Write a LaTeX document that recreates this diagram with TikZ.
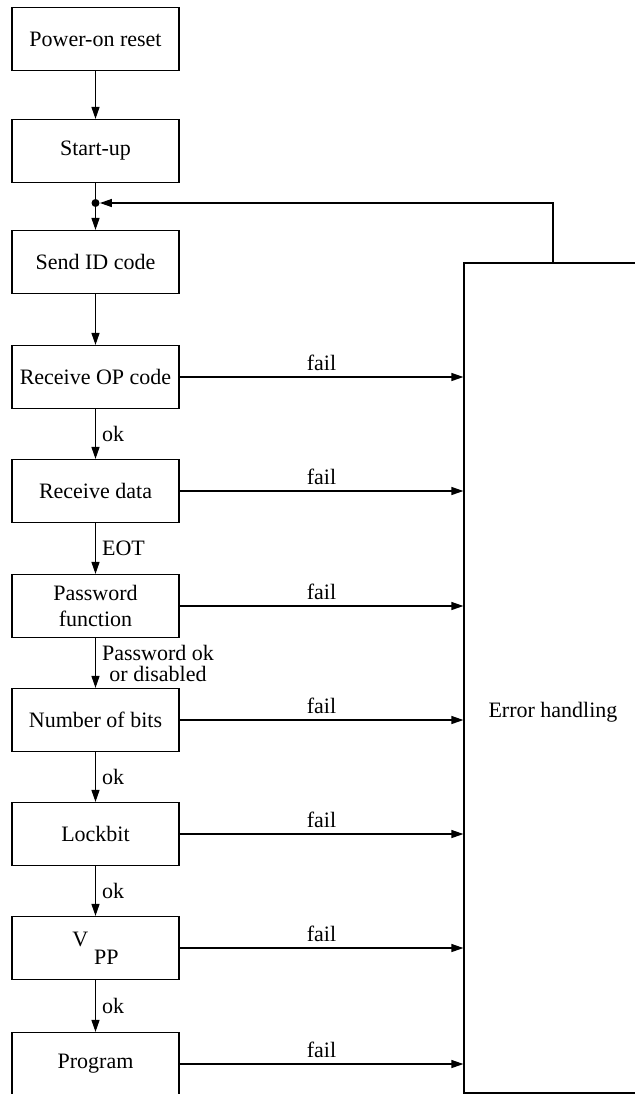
\documentclass[tikz,border=0pt]{standalone}
\usepackage{fontspec}
\setmainfont{Liberation Serif}
\usetikzlibrary{arrows.meta}
\begin{document}
\begin{tikzpicture}[x=0.5pt,y=-0.5pt,
  box/.style={draw, line width=0.6pt, minimum width=83.5pt, minimum height=31.5pt,
    inner sep=0pt, align=center, font=\fontsize{11}{13}\selectfont},
  conn/.style={line width=0.6pt, -{Triangle[length=6pt,width=4pt]}},
  plain/.style={line width=0.6pt},
  lbl/.style={font=\fontsize{11}{12.5}\selectfont, inner sep=3pt, align=center},
]
\useasboundingbox (0,0) rectangle (635,1094);
% main chain
\node[box] (b1) at (95.5,39) {Power-on reset};
\node[box] (b2) at (95.5,151) {Start-up};
\node[circle, fill, inner sep=0pt, minimum size=4pt] (j) at (95.5,203) {};
\node[box] (b3) at (95.5,262) {Send ID code};
\node[box] (b4) at (95.5,377) {Receive OP code};
\node[box] (b5) at (95.5,491) {Receive data};
\node[box] (b6) at (95.5,606) {Password\\function};
\node[box] (b7) at (95.5,720) {Number of bits};
\node[box] (b8) at (95.5,834) {Lockbit};
\node[box] (b9) at (95.5,948) {V\hspace{3pt}\raisebox{-9pt}{PP}};
\node[box] (b10) at (95.5,1064) {Program};
% error box
\node[draw, line width=0.6pt, minimum width=89pt, minimum height=415pt, inner sep=0pt] (err) at (553,678) {};
\node[lbl] (errtext) at (553,712) {Error handling};
% vertical connectors
\draw[conn] (b1) -- (b2);
\draw[plain] (b2) -- (j);
\draw[conn] (j) -- (b3);
\draw[conn] (b3) -- (b4);
\draw[conn] (b4) -- (b5) node[lbl, midway, right] {ok};
\draw[conn] (b5) -- (b6) node[lbl, midway, right] {EOT};
\draw[conn] (b6) -- (b7) node[lbl, midway, right, inner sep=1pt, xshift=2pt] {Password ok\\[-2pt]or disabled};
\draw[conn] (b7) -- (b8) node[lbl, midway, right] {ok};
\draw[conn] (b8) -- (b9) node[lbl, midway, right] {ok};
\draw[conn] (b9) -- (b10) node[lbl, midway, right] {ok};
% loop back
\draw[conn] (err.north) |- (j);
% fail arrows
\foreach \b in {b4,b5,b6,b7,b8,b9,b10}{
  \draw[conn] (\b.east) -- (\b.east -| err.west) node[lbl, midway, above] {fail};
}
\end{tikzpicture}
\end{document}
